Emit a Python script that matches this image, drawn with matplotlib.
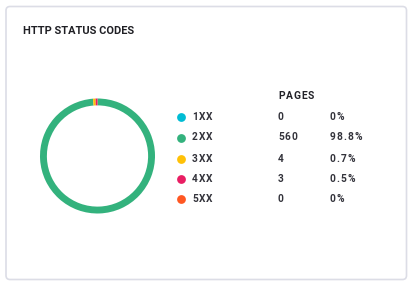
import matplotlib
matplotlib.use("Agg")
import matplotlib.pyplot as plt
from matplotlib.patches import FancyBboxPatch

plt.rcParams["font.family"] = ["Roboto", "DejaVu Sans"]

TITLE = "HTTP STATUS CODES"
codes = ["1XX", "2XX", "3XX", "4XX", "5XX"]
pages = [0, 560, 4, 3, 0]
shares = ["0%", "98.8%", "0.7%", "0.5%", "0%"]
colors = ["#00bcd4", "#33b27d", "#ffc107", "#e91e63", "#ff5722"]

W, H = 413, 287
fig = plt.figure(figsize=(W / 100, H / 100), dpi=100)
renderer = fig.canvas.get_renderer()

# background axes in pixel coordinates
bg = fig.add_axes([0, 0, 1, 1])
bg.set_xlim(0, W)
bg.set_ylim(H, 0)
bg.axis("off")


def spaced_text(x, y, s, spacing, **kw):
    # letter-spacing: place each char at the natural prefix width plus extra gap
    probe = bg.text(0, 0, "", **kw)
    for i, ch in enumerate(s):
        probe.set_text(s[:i] + "|")
        w_bar = probe.get_window_extent(renderer).width
        probe.set_text("|")
        w_pipe = probe.get_window_extent(renderer).width
        off = (w_bar - w_pipe) if i else 0
        bg.text(x + off + i * spacing, y, ch, va="center", ha="left", **kw)
    probe.remove()


card = FancyBboxPatch((6, 6.5), 400.5, 273, boxstyle="round,pad=0,rounding_size=4",
                      facecolor="white", edgecolor="#dcdde6", linewidth=1.2)
bg.add_patch(card)

bg.text(23, 31, TITLE, fontsize=7.9, fontweight="bold", color="#1f1f24",
        va="center", ha="left")

# table
row_y = [117, 137.5, 158.5, 179, 199]
spaced_text(278, 96, "PAGES", 0.9, fontsize=7.4, fontweight="bold", color="#222228")
for y, code, n, pct, col in zip(row_y, codes, pages, shares, colors):
    bg.scatter([180.5], [y], s=40, color=col, zorder=3, linewidths=0)
    style = dict(fontsize=7.3, fontweight="bold", color="#33333b")
    spaced_text(192, y, code, 0.8, **style)
    spaced_text(278, y, str(n), 1.0, **style)
    spaced_text(330, y, pct, 0.9, **style)

# donut
cx, cy, r = 97.5, 156, 57.5
pie_ax = fig.add_axes([(cx - r) / W, (H - cy - r) / H, 2 * r / W, 2 * r / H])
pie_ax.pie(pages, colors=colors, startangle=90, counterclock=False,
           wedgeprops=dict(width=0.12, linewidth=0))
pie_ax.set_xlim(-1, 1)
pie_ax.set_ylim(-1, 1)
pie_ax.set_aspect("equal")
pie_ax.axis("off")

fig.savefig("out.png", dpi=100)
